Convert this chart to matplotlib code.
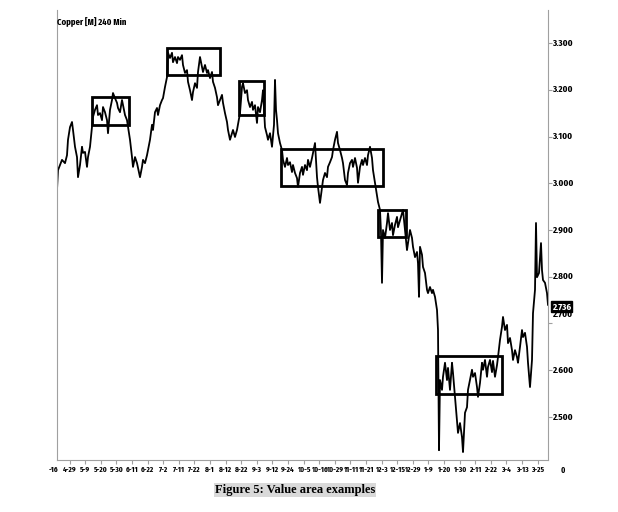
import os
import matplotlib
matplotlib.use("Agg")
import matplotlib.pyplot as plt
import matplotlib.transforms as mtransforms
from matplotlib import font_manager
from matplotlib.font_manager import FontProperties
from matplotlib.patches import Rectangle

# Copper [M] 240 Min -- bar number and close
bars = [0, 1, 3, 5, 8, 10, 11, 13, 15, 16, 18, 20, 21, 23, 25, 26, 28, 30, 31, 33, 35,
        36, 38, 40, 41, 43, 45, 46, 48, 50, 51, 53, 55, 56, 58, 60, 61, 63, 65, 66, 68, 70,
        73, 75, 76, 78, 80, 81, 83, 85, 86, 88, 90, 91, 93, 95, 96, 98, 100, 101, 103, 105,
        106, 108, 110, 111,
        113, 115, 116, 118, 120, 121, 123, 125, 126, 128, 130, 131, 133, 135, 136, 138, 140,
        141, 143, 145, 146, 148, 150, 151, 153, 155, 156, 158, 160, 161, 163, 165, 166, 168,
        170, 171, 173, 175, 176, 178, 180,
        183, 185, 186, 188, 190, 191, 193, 195, 196, 198, 200, 201, 203, 205, 206,
        208, 210, 211, 213, 215, 217, 218, 219, 220, 221, 223, 225,
        226, 228, 230, 231, 233, 235, 236, 238, 240, 241, 243, 245, 246, 248, 250, 251, 253,
        255, 256, 258, 260, 261, 263, 265, 266, 268, 270, 271, 273, 275, 276, 278, 280, 281,
        283, 285, 286, 288, 290, 291, 293, 295, 296, 298, 300, 301, 303, 305, 306, 308, 310,
        311, 313, 315, 316, 318, 320, 321, 323,
        324, 325, 326, 328, 330, 331, 333, 335, 336, 338, 340, 341, 343, 345, 346, 348,
        350, 351, 353, 355, 356, 358, 360, 361, 362, 363, 365, 366, 368, 370, 371, 373, 375,
        376, 378, 380, 381,
        382, 383, 385, 386, 388, 390, 391, 393, 395, 396, 398, 400, 401, 403, 405, 406, 407,
        408, 410, 411, 413, 415, 416, 418, 420, 421, 423, 425, 426, 428, 430, 431, 433, 435,
        436, 438, 440, 441, 443, 445, 446, 448, 450, 451, 453, 455, 456, 458, 460, 461, 463,
        465, 466, 468, 470, 471, 473, 475, 476, 478, 479, 480, 482, 484, 485, 486, 488, 490,
        491]
close = [2.986, 3.028, 3.039, 3.050, 3.043, 3.060, 3.093, 3.120, 3.131, 3.114, 3.078, 3.056,
         3.013, 3.039, 3.078, 3.065, 3.067, 3.035, 3.056, 3.078, 3.120,
         3.142, 3.157, 3.167, 3.146, 3.150, 3.135, 3.163, 3.152, 3.135, 3.107, 3.157, 3.178,
         3.193, 3.182, 3.172, 3.161, 3.152, 3.178, 3.167, 3.146, 3.135,
         3.093, 3.056, 3.035, 3.056, 3.043, 3.033, 3.013, 3.035, 3.050, 3.043, 3.060, 3.071,
         3.093, 3.125, 3.114, 3.152, 3.161, 3.146, 3.167, 3.178, 3.182, 3.206, 3.227, 3.279,
         3.268, 3.279, 3.259, 3.270, 3.257, 3.270, 3.264, 3.274, 3.253, 3.236, 3.242, 3.217,
         3.199, 3.178, 3.195, 3.214, 3.204, 3.238, 3.270, 3.249, 3.238, 3.253, 3.236, 3.242,
         3.225, 3.238, 3.217, 3.204, 3.184, 3.167, 3.178, 3.189, 3.172, 3.150, 3.131, 3.114,
         3.093, 3.107, 3.114, 3.099, 3.114,
         3.150, 3.206, 3.214, 3.193, 3.199, 3.178, 3.163, 3.174, 3.157, 3.167, 3.129, 3.163,
         3.152, 3.178, 3.199,
         3.120, 3.103, 3.093, 3.107, 3.078, 3.125, 3.221, 3.157, 3.135, 3.107, 3.086, 3.071,
         3.050, 3.035, 3.054, 3.039, 3.045, 3.024, 3.039, 3.022, 3.011, 2.992, 3.022, 3.035,
         3.018, 3.039, 3.028, 3.050, 3.035, 3.054, 3.065, 3.086, 3.013, 2.992, 2.958, 2.990,
         3.007, 3.022, 3.013, 3.035, 3.045, 3.056, 3.071, 3.093, 3.110, 3.086, 3.071, 3.054,
         3.043, 3.007, 2.996, 3.022, 3.043, 3.050, 3.035, 3.054, 3.033, 3.001, 3.035, 3.050,
         3.039, 3.054, 3.039, 3.060, 3.078, 3.054, 3.028, 3.001, 2.975, 2.960, 2.943,
         2.894, 2.787, 2.900, 2.883, 2.915, 2.936, 2.900, 2.915, 2.889, 2.911, 2.928, 2.906,
         2.921, 2.936, 2.943, 2.900,
         2.857, 2.872, 2.900, 2.883, 2.864, 2.842, 2.853, 2.829, 2.757, 2.864, 2.847, 2.821,
         2.808, 2.772, 2.765, 2.778, 2.765, 2.772, 2.757, 2.729, 2.686,
         2.429, 2.579, 2.558, 2.586, 2.616, 2.579, 2.605, 2.558, 2.616, 2.594, 2.543, 2.494,
         2.466, 2.487, 2.457, 2.425, 2.466, 2.509, 2.521, 2.558, 2.579, 2.601, 2.586, 2.594,
         2.564, 2.543, 2.573, 2.616, 2.601, 2.622, 2.586, 2.607, 2.622, 2.596, 2.620, 2.586,
         2.611, 2.628, 2.665, 2.693, 2.714, 2.686, 2.697, 2.658, 2.669, 2.643, 2.622, 2.643,
         2.628, 2.616, 2.650, 2.686, 2.671, 2.680, 2.650, 2.616, 2.564, 2.622, 2.722, 2.772,
         2.915, 2.799, 2.808, 2.872, 2.814, 2.793, 2.787, 2.765, 2.740]

# value areas: first bar, last bar, low, high
va_start = [35, 110, 182, 224, 321, 379]
va_end = [72, 163, 207, 326, 349, 445]
va_low = [3.125, 3.232, 3.146, 2.994, 2.885, 2.549]
va_high = [3.185, 3.289, 3.219, 3.073, 2.943, 2.630]

date_labels = ["-16", "4-29", "5-9", "5-20", "5-30", "6-11", "6-22", "7-2", "7-11", "7-22",
               "8-1", "8-12", "8-22", "9-3", "9-12", "9-24", "10-5", "10-16", "10-29",
               "11-11", "11-21", "12-3", "12-15", "12-29", "1-9", "1-20", "1-30", "2-11",
               "2-22", "3-4", "3-13", "3-25"]
price_ticks = [2.5, 2.6, 2.7, 2.8, 2.9, 3.0, 3.1, 3.2, 3.3]
last_price = 2.736


def find_narrow_bold():
    """Look for a condensed / narrow bold face among the installed font files."""
    ranks = [("extracondensed", 0), ("narrow", 1), ("semicondensed", 3), ("condensed", 2)]
    best = None
    for f in font_manager.fontManager.ttflist:
        fn = os.path.basename(f.fname).lower().replace("-", "").replace("_", "")
        if "bold" not in fn or "italic" in fn or "oblique" in fn:
            continue
        if "extrabold" in fn or "semibold" in fn or "ultra" in fn:
            continue
        for key, r in ranks:
            if key in fn:
                if best is None or r < best[0]:
                    best = (r, f.fname)
                break
    return best[1] if best else None


narrow_file = find_narrow_bold()


def narrow(size):
    if narrow_file:
        return FontProperties(fname=narrow_file, size=size)
    return FontProperties(family="DejaVu Sans", weight="bold", size=size * 0.8)


GREY = "#a0a0a0"

fig = plt.figure(figsize=(6.18, 5.12), dpi=100)
ax = fig.add_axes([57 / 618, 1 - 460 / 512, 491 / 618, 450 / 512])

ax.plot(bars, close, color="black", lw=1.3)
for s, e, lo, hi in zip(va_start, va_end, va_low, va_high):
    ax.add_patch(Rectangle((s, lo), e - s, hi - lo, fill=False, ec="black", lw=2.0, zorder=3))

ax.set_xlim(0, 491)
ax.set_ylim(2.408, 3.3706)

ax.spines["top"].set_visible(False)
for side in ["left", "right", "bottom"]:
    ax.spines[side].set_color(GREY)
    ax.spines[side].set_linewidth(0.8)

tick_pos = [15.6 * k - 3 for k in range(len(date_labels))]
ax.set_xticks([t for t in tick_pos if t >= 0])
ax.tick_params(axis="x", direction="out", length=3, color=GREY, labelbottom=False)
ax.yaxis.tick_right()
ax.set_yticks(price_ticks)
ax.tick_params(axis="y", direction="out", length=3, color=GREY, labelright=False)

# date labels under the axis
xlab_trans = mtransforms.offset_copy(ax.get_xaxis_transform(), fig=fig, y=-10, units="dots")
for pos, lab in zip(tick_pos, date_labels):
    ax.text(pos, 0, lab, transform=xlab_trans, ha="center", va="center", clip_on=False,
            fontproperties=narrow(5.7))
fig.text(563 / 618, 1 - 470 / 512, "0", ha="center", va="center", fontproperties=narrow(6))

# price labels on the right
ylab_trans = mtransforms.offset_copy(ax.get_yaxis_transform(), fig=fig, x=4, units="dots")
ylab_up = mtransforms.offset_copy(ax.get_yaxis_transform(), fig=fig, x=4, y=9, units="dots")
for p in price_ticks:
    ax.text(1.0, p, f"{p:.3f}", transform=ylab_up if p == 2.7 else ylab_trans,
            ha="left", va="center", clip_on=False, fontproperties=narrow(7))
ax.text(1.0, last_price, f"{last_price:.3f}", transform=ylab_trans, ha="left", va="center",
        color="white", fontproperties=narrow(7), clip_on=False,
        bbox=dict(boxstyle="square,pad=0.12", fc="black", ec="black"))

fig.text(57 / 618, 1 - 22 / 512, "Copper [M] 240 Min", ha="left", va="center",
         fontproperties=narrow(6.8))

fig.text(295 / 618, 1 - 490 / 512, "Figure 5: Value area examples", ha="center", va="center",
         family="Liberation Serif", fontweight="bold", fontsize=9,
         bbox=dict(boxstyle="square,pad=0.1", fc="#d9d9d9", ec="none"))

fig.savefig("out.png", dpi=100)
